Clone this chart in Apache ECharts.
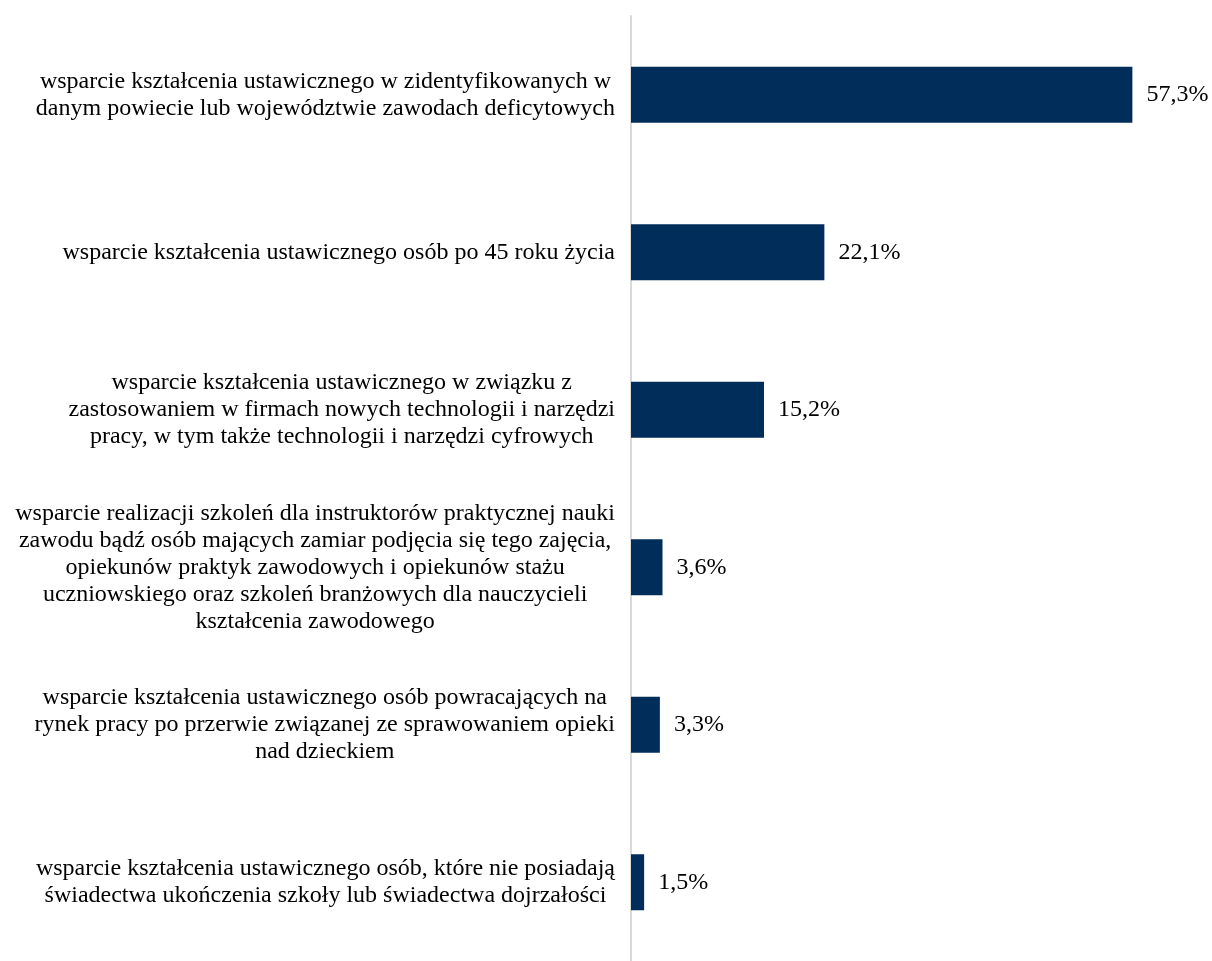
<!DOCTYPE html>
<html>
<head>
<meta charset="utf-8">
<script src="https://cdn.jsdelivr.net/npm/echarts@6/dist/echarts.min.js"></script>
<style>
  html, body { margin: 0; padding: 0; background: #fff; }
  #chart { width: 1212px; height: 961px; }
</style>
</head>
<body>
<div id="chart"></div>
<script>
// kategorie (linie rozdzielone jak na oryginale)
var categories = [
    'wsparcie kształcenia ustawicznego w zidentyfikowanych w\ndanym powiecie lub województwie zawodach deficytowych',
    'wsparcie kształcenia ustawicznego osób po 45 roku życia',
    'wsparcie kształcenia ustawicznego w związku z\nzastosowaniem w firmach nowych technologii i narzędzi\npracy, w tym także technologii i narzędzi cyfrowych',
    'wsparcie realizacji szkoleń dla instruktorów praktycznej nauki\nzawodu bądź osób mających zamiar podjęcia się tego zajęcia,\nopiekunów praktyk zawodowych i opiekunów stażu\nuczniowskiego oraz szkoleń branżowych dla nauczycieli\nkształcenia zawodowego',
    'wsparcie kształcenia ustawicznego osób powracających na\nrynek pracy po przerwie związanej ze sprawowaniem opieki\nnad dzieckiem',
    'wsparcie kształcenia ustawicznego osób, które nie posiadają\nświadectwa ukończenia szkoły lub świadectwa dojrzałości'
];
var values = [57.3, 22.1, 15.2, 3.6, 3.3, 1.5];

var myChart = echarts.init(document.getElementById('chart'));
var font = '"Liberation Serif", "Times New Roman", serif';

option = {
    animation: false,
    grid: {
        left: 631,
        right: 56,
        top: 16,
        bottom: -3,
        containLabel: false
    },
    xAxis: {
        type: 'value',
        min: 0,
        max: 60,
        show: false
    },
    yAxis: {
        type: 'category',
        inverse: true,
        data: categories,
        axisLine: { show: true, lineStyle: { color: '#d9d9d9', width: 2 } },
        axisTick: { show: false },
        axisLabel: {
            margin: 16,
            fontFamily: font,
            fontSize: 24,
            lineHeight: 27,
            color: '#000',
            // każda linia wyśrodkowana w obrębie bloku
            formatter: function (val) {
                return val.split('\n').map(function (l) { return '{c|' + l + '}'; }).join('\n');
            },
            rich: {
                c: { align: 'center', fontFamily: font, fontSize: 24, lineHeight: 27, color: '#000' }
            }
        }
    },
    series: [
        {
            type: 'bar',
            data: values,
            barWidth: 56,
            itemStyle: { color: '#002d5a' },
            label: {
                show: true,
                position: 'right',
                distance: 14,
                fontFamily: font,
                fontSize: 24,
                color: '#000',
                formatter: function (p) {
                    return p.value.toFixed(1).replace('.', ',') + '%';
                }
            }
        }
    ]
};
myChart.setOption(option);
</script>
</body>
</html>
